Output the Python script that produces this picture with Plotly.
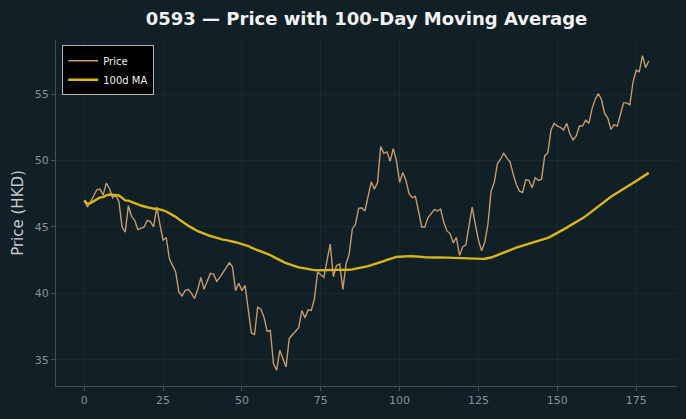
import numpy as np
import pandas as pd
import plotly.graph_objects as go

days = list(range(180))
price = [
    47.0, 46.5, 46.9, 47.3, 47.8, 47.85, 47.4, 48.3, 47.9, 47.2,
    47.4, 46.9, 45.0, 44.6, 46.6, 45.8, 45.5, 44.8, 44.9, 45.0,
    45.5, 45.4, 45.0, 46.5, 45.2, 44.0, 44.2, 42.6, 42.1, 41.6,
    40.1, 39.8, 40.2, 40.3, 40.0, 39.6, 40.3, 41.2, 40.3, 40.9,
    41.5, 41.45, 40.9, 41.2, 41.6, 42.0, 42.3, 42.0, 40.2, 40.75,
    40.2, 40.6, 38.6, 37.0, 36.9, 38.95, 38.8, 38.2, 37.15, 37.2,
    34.7, 34.2, 35.7, 35.1, 34.45, 36.6, 36.85, 37.1, 37.4, 38.7,
    38.15, 38.75, 38.7, 39.6, 41.6, 41.4, 41.2, 42.5, 43.7, 41.25,
    42.1, 42.2, 40.3, 42.2, 42.95, 44.85, 45.2, 46.4, 46.45, 46.2,
    47.2, 48.4, 47.85, 48.35, 51.05, 50.55, 50.65, 49.95, 50.9, 50.0,
    48.35, 49.1, 48.5, 47.5, 47.2, 47.3, 46.2, 45.0, 45.0, 45.7,
    46.0, 46.3, 46.2, 46.35, 45.35, 44.7, 44.5, 43.8, 44.2, 42.85,
    43.5, 43.65, 45.1, 46.5, 45.2, 44.0, 43.2, 43.85, 45.2, 47.7,
    48.35, 49.75, 50.1, 50.55, 50.2, 49.9, 49.0, 48.2, 47.7, 47.6,
    48.55, 48.5, 47.95, 48.7, 48.5, 48.6, 50.35, 50.6, 52.3, 52.8,
    52.6, 52.5, 52.3, 52.8, 52.0, 51.55, 51.85, 52.6, 52.6, 53.05,
    52.8, 53.9, 54.6, 55.05, 54.6, 53.55, 53.2, 52.35, 52.7, 52.6,
    53.45, 54.35, 54.35, 54.2, 55.9, 56.8, 56.7, 57.9, 57.0, 57.5,
]
assert len(price) == len(days)

ma100 = pd.Series(price).rolling(100, min_periods=1).mean().tolist()

x_ticks = [0, 25, 50, 75, 100, 125, 150, 175]
y_ticks = [35, 40, 45, 50, 55]

BG = "#111f26"
GRID = "#1b2a31"
SPINE = "#4a4d4f"
TICK = "#8c9093"

fig = go.Figure()
fig.add_trace(go.Scatter(x=days, y=price, mode="lines", name="Price",
                         line=dict(color="#c49a6c", width=1.4)))
fig.add_trace(go.Scatter(x=days, y=ma100, mode="lines", name="100d MA",
                         line=dict(color="#d9b51c", width=2.4)))

xr = [-0.05 * 179, 179 + 0.05 * 179]
ymin, ymax = min(price), max(price)
pad = 0.05 * (ymax - ymin)
yr = [ymin - pad, ymax + pad]

fig.update_layout(
    width=686, height=419,
    paper_bgcolor=BG, plot_bgcolor=BG,
    margin=dict(l=56, r=9, t=40, b=33),
    font=dict(family="DejaVu Sans", color=TICK, size=11),
    title=dict(text="<b>0593 — Price with 100-Day Moving Average</b>",
               x=0.5, xref="paper", y=0.955, yref="container", yanchor="middle",
               font=dict(family="DejaVu Sans", size=18, color="#f2f2f2")),
    legend=dict(x=0.01, y=0.985, xanchor="left", yanchor="top",
                bgcolor="#000000", bordercolor="#b0b0b0", borderwidth=1,
                font=dict(color="#f0f0f0", size=10),
                itemwidth=30, tracegroupgap=0),
    showlegend=True,
)
fig.update_xaxes(range=xr, tickvals=x_ticks, ticks="outside", ticklen=4,
                 tickcolor=SPINE, showgrid=True, gridcolor=GRID, gridwidth=1,
                 zeroline=False, showline=True, linecolor=SPINE, linewidth=1,
                 mirror=False, tickfont=dict(color=TICK, size=11))
fig.update_yaxes(range=yr, tickvals=y_ticks, ticks="outside", ticklen=4,
                 tickcolor=SPINE, showgrid=True, gridcolor=GRID, gridwidth=1,
                 zeroline=False, showline=True, linecolor=SPINE, linewidth=1,
                 title=dict(text="Price (HKD)", font=dict(color="#c8c8c8", size=15),
                            standoff=7),
                 tickfont=dict(color=TICK, size=11))

fig.write_html("out.html")
